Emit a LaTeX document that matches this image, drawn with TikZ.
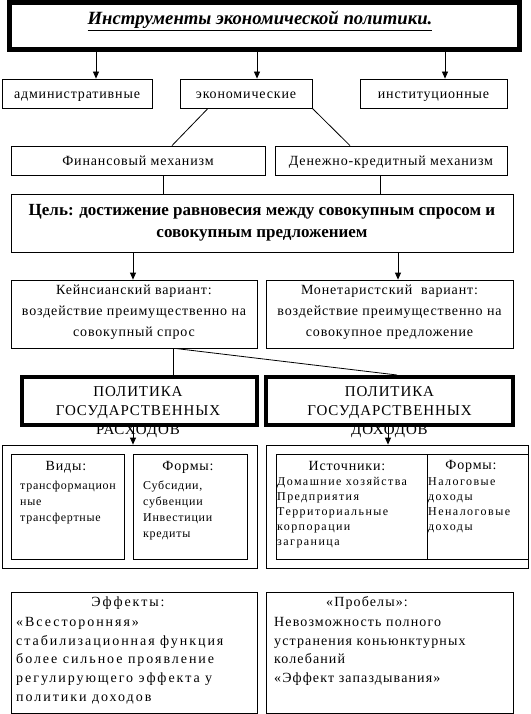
\documentclass[tikz,border=0pt]{standalone}
\usepackage{fontspec}
\setmainfont{Liberation Serif}
\newfontfamily\spf[LetterSpace=6]{Liberation Serif}
\newfontfamily\spg[LetterSpace=6]{Liberation Serif}
\newfontfamily\sph[LetterSpace=12]{Liberation Serif}
\newfontfamily\spw[LetterSpace=14]{Liberation Serif}
\newfontfamily\spm[LetterSpace=8]{Liberation Serif}
\usetikzlibrary{arrows.meta}
\tikzset{
  box/.style={draw, line width=0.8pt, inner sep=0pt, anchor=center},
  arr/.style={line width=0.8pt, -{Triangle[length=7pt,width=6pt]}},
  conn/.style={line width=0.8pt},
  lbl/.style={inner sep=0pt, font=\spf\fontsize{14}{16}\selectfont},
  body/.style={inner sep=0pt, anchor=north west, align=left},
}
\begin{document}
\begin{tikzpicture}[x=1pt,y=-1pt]
\useasboundingbox (0,0) rectangle (530,714);
% title
\node[box, line width=5pt, minimum width=510, minimum height=47] (title) at (264.5,26) {};
\node[inner sep=0pt, font=\bfseries\itshape\fontsize{18.7}{22}\selectfont] (ttl) at (260,21) {\underline{Инструменты экономической политики.}};
% level 2
\node[box, minimum width=150, minimum height=29, lbl, text depth=0pt, text height=10pt] (adm) at (77,93.5) {административные};
\node[box, minimum width=132, minimum height=29, lbl, text depth=0pt, text height=10pt] (econ) at (246,93.5) {экономические};
\node[box, minimum width=147, minimum height=29, lbl, text depth=0pt, text height=10pt] (inst) at (433.5,93.5) {институционные};
\draw[arr] (title.south -| 96,0) -- (adm.north -| 96,0);
\draw[arr] (title.south -| 257,0) -- (econ.north -| 257,0);
\draw[arr] (title.south -| 445,0) -- (inst.north -| 445,0);
% level 3
\node[box, minimum width=254, minimum height=29, lbl, text depth=0pt, text height=10pt] (fin) at (138,160.5) {Финансовый механизм};
\node[box, minimum width=232, minimum height=29, lbl, text depth=0pt, text height=10pt] (den) at (391,160.5) {Денежно-кредитный механизм};
\draw[conn] (econ.south -| 208,0) -- (fin.north -| 172,0);
\draw[conn] (econ.south east) -- (den.north -| 350,0);
% goal
\node[box, minimum width=502, minimum height=58, align=center,
      font=\bfseries\fontsize{17}{22}\selectfont] (goal) at (262,223)
      {Цель: достижение равновесия между совокупным спросом и\\совокупным предложением};
\draw[conn] (fin.south -| 163,0) -- (goal.north -| 163,0);
\draw[conn] (den.south -| 380,0) -- (goal.north -| 380,0);
% variants
\node[box, minimum width=246, minimum height=68] (keyn) at (134,314) {};
\node[inner sep=0pt, align=center, font=\spg\fontsize{14}{21}\selectfont] (keyt) at (134,312)
      {Кейнсианский вариант:\\воздействие преимущественно на\\совокупный спрос};
\node[box, minimum width=247, minimum height=68] (mon) at (389.5,314) {};
\node[inner sep=0pt, align=center, font=\spg\fontsize{14}{21}\selectfont] (mont) at (389.5,312)
      {Монетаристский\hspace{9pt}вариант:\\воздействие преимущественно на\\совокупное предложение};
\draw[arr] (goal.south -| 133,0) -- (keyn.north -| 133,0);
\draw[arr] (goal.south -| 398,0) -- (mon.north -| 398,0);
% policies
\node[box, line width=4pt, minimum width=235, minimum height=48] (polr) at (139.5,401) {};
\node[inner sep=0pt, align=center, font=\spg\fontsize{15}{19}\selectfont] (polrt) at (138,412)
      {ПОЛИТИКА\\ГОСУДАРСТВЕННЫХ\\РАСХОДОВ};
\node[box, line width=4pt, minimum width=247, minimum height=48] (pold) at (389.5,401) {};
\node[inner sep=0pt, align=center, font=\spg\fontsize{15}{19}\selectfont] (poldt) at (389.5,412)
      {ПОЛИТИКА\\ГОСУДАРСТВЕННЫХ\\ДОХОДОВ};
\draw[conn] (keyn.south -| 173,0) -- (polr.north -| 173,0);
\draw[conn] (keyn.south -| 175,0) -- (pold.north -| 397,0);
% outer boxes
\node[box, minimum width=255, minimum height=123] (outL) at (129.5,506.5) {};
\node[box, minimum width=262, minimum height=123] (outR) at (397,506.5) {};
\draw[arr] (polr.south -| 133,0) -- (outL.north -| 133,0);
\draw[arr] (pold.south -| 388,0) -- (outR.north -| 388,0);
% inner boxes
\node[box, minimum width=113, minimum height=105] (vid) at (67.5,506.5) {};
\node[box, minimum width=114, minimum height=105] (formL) at (190,506.5) {};
\node[box, minimum width=151, minimum height=105] (src) at (351.5,506.5) {};
\node[box, minimum width=101, minimum height=105] (formR) at (477.5,506.5) {};
\node[inner sep=0pt, font=\spg\fontsize{14}{16}\selectfont] (vidh) at (66,467) {Виды:};
\node[body, font=\spg\fontsize{12}{16}\selectfont] (vidb) at (20,481)
      {трансформацион\\ные\\трансфертные};
\node[inner sep=0pt, font=\spg\fontsize{14}{16}\selectfont] (formLh) at (188,467) {Формы:};
\node[body, font=\spg\fontsize{12}{16}\selectfont] (formLb) at (143,481)
      {Субсидии,\\субвенции\\Инвестиции\\кредиты};
\node[inner sep=0pt, font=\spg\fontsize{14}{16}\selectfont] (srch) at (347,466) {Источники:};
\node[body, font=\sph\fontsize{12}{15}\selectfont] (srcb) at (277,477)
      {Домашние хозяйства\\Предприятия\\Территориальные\\корпорации\\заграница};
\node[inner sep=0pt, font=\spg\fontsize{14}{16}\selectfont] (formRh) at (471,466) {Формы:};
\node[body, font=\sph\fontsize{12}{15}\selectfont] (formRb) at (428,477)
      {Налоговые\\доходы\\Неналоговые\\доходы};
% bottom boxes
\node[box, minimum width=246, minimum height=121] (eff) at (134,652.5) {};
\node[box, minimum width=247, minimum height=121] (gap) at (389.5,652.5) {};
\node[inner sep=0pt, font=\spw\fontsize{14}{18.7}\selectfont] (effh) at (128,603) {Эффекты:};
\node[body, font=\spw\fontsize{14}{18.7}\selectfont] (effb) at (16,617)
      {«Всесторонняя»\\стабилизационная функция\\более сильное проявление\\регулирующего эффекта у\\политики доходов};
\node[inner sep=0pt, font=\spm\fontsize{14}{18.7}\selectfont] (gaph) at (367,603) {«Пробелы»:};
\node[body, font=\spm\fontsize{14}{18.7}\selectfont] (gapb) at (274,617)
      {Невозможность полного\\устранения коньюнктурных\\колебаний\\«Эффект запаздывания»};
\end{tikzpicture}
\end{document}
